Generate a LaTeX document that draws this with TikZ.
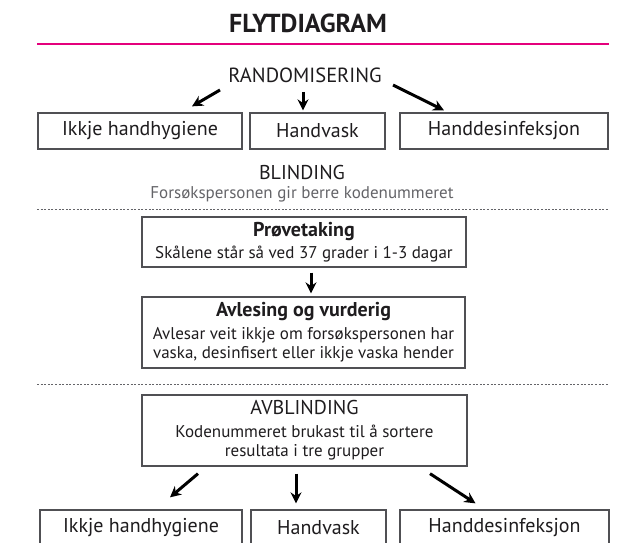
\documentclass[tikz,border=0pt]{standalone}
\usepackage{fontspec}
\setmainfont{PT Sans}
\usetikzlibrary{positioning,calc,arrows,arrows.meta}

\definecolor{flytpink}{RGB}{228,0,124}
\definecolor{flytink}{RGB}{30,28,30}
\definecolor{flytgrey}{RGB}{100,100,104}
\definecolor{flytframe}{RGB}{80,80,84}

\newcommand{\hdfont}{\fontsize{20}{22}\selectfont\color{flytink}}
\newcommand{\subfont}{\fontsize{17}{19.5}\selectfont\color{flytgrey}}

\begin{document}
\begin{tikzpicture}[x=1pt, y=-1pt]
	\useasboundingbox (0,0) rectangle (643,543);
	\clip (0,0) rectangle (643,543);
	\begin{scope}
		\tikzstyle{every node}=[align=center, inner sep=0pt, text=flytink]
		\tikzstyle{box}=[draw=flytframe, line width=1.3pt, font=\fontsize{20}{22}\selectfont]
		\tikzstyle{bigbox}=[box, font=\subfont]
		\tikzstyle{arr}=[line width=3pt, -{Stealth[length=11pt, width=11pt]}]
		\tikzstyle{sep}=[flytgrey, line width=1pt, dash pattern=on 2pt off 1.6pt]

		\node (title) at (308, 23) {\fontsize{26}{28}\selectfont\bfseries FLYTDIAGRAM};
		\draw [flytpink, line width=2.6pt] (37, 44) -- (609, 44);

		\node (rand) at (305, 75) {\fontsize{20.5}{22}\selectfont RANDOMISERING};

		\node [box, minimum width=204, minimum height=36] (ikkje1)  at (140, 131)   {Ikkje handhygiene};
		\node [box, minimum width=135, minimum height=36] (vask1)   at (317.5, 131) {Handvask};
		\node [box, minimum width=208, minimum height=36] (desinf1) at (504, 131)   {Handdesinfeksjon};

		\node (blind) at (302, 184) {{\hdfont BLINDING}\\[6pt]{\subfont Forsøkspersonen gir berre kodenummeret}};
		\draw [sep] (37, 209) -- (609, 209);

		\node [bigbox, minimum width=324, minimum height=50] (prove) at (304, 242)
			{{\hdfont\bfseries Prøvetaking}\\[3pt]Skålene står så ved 37 grader i 1-3 dagar};
		\node [bigbox, minimum width=323, minimum height=71] (avles) at (303.5, 332.5)
			{{\hdfont\bfseries Avlesing og vurderig}\\[3pt]Avlesar veit ikkje om forsøkspersonen har\\vaska, desinfisert eller ikkje vaska hender};

		\draw [sep] (37, 384) -- (609, 384);

		\node [bigbox, minimum width=325, minimum height=71] (avblind) at (304.5, 430.5)
			{{\hdfont AVBLINDING}\\[3pt]Kodenummeret brukast til å sortere\\resultata i tre grupper};

		\node [box, minimum width=202, minimum height=36] (ikkje2)  at (141, 528)   {Ikkje handhygiene};
		\node [box, minimum width=135, minimum height=36] (vask2)   at (318.5, 528) {Handvask};
		\node [box, minimum width=209, minimum height=36] (desinf2) at (504.5, 528) {Handdesinfeksjon};

		% randomisering
		\draw [arr] ($(rand)+(-85, 15)$) to ($(ikkje1.north)+(52, -6)$);
		\draw [arr] ($(rand)+(-2, 17)$) to ($(vask1.north)+(-14.5, -2)$);
		\draw [arr] ($(rand)+(88, 10)$) to ($(desinf1.north)+(-60, -2)$);

		\draw [arr] ($(prove.south)+(7, 5)$) to ($(avles.north)+(7.5, -3)$);

		% avblinding
		\draw [arr] ($(avblind.south)+(-106.5, 7)$) to ($(ikkje2.north)+(29, -12)$);
		\draw [arr] ($(avblind.south)+(-8.5, 7)$) to ($(vask2.north)+(-22.5, -6)$);
		\draw [arr] ($(avblind.south)+(125.5, 7)$) to ($(desinf2.north)+(-29, -6)$);
	\end{scope}
\end{tikzpicture}
\end{document}
